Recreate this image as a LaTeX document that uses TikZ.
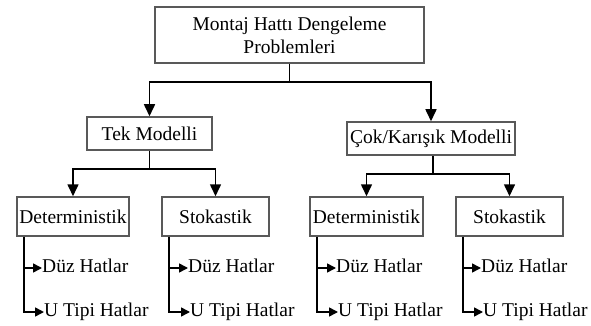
\documentclass[tikz,border=0pt]{standalone}
\usepackage{fontspec}
\setmainfont{Liberation Serif}
\usepackage{tikz}
\usetikzlibrary{arrows.meta}

\tikzset{
  box/.style={draw=black!65, line width=1.5pt, inner sep=0pt, align=center,
    minimum height=39pt, font=\fontsize{19.5}{23}\selectfont},
  lbl/.style={anchor=west, inner sep=0pt, text height=13pt, text depth=4pt,
    font=\fontsize{19.5}{23}\selectfont},
  conn/.style={line width=1.6pt, -{Triangle[length=12pt,width=11pt]}},
  leaf/.style={line width=1.6pt, -{Triangle[length=9pt,width=9pt]}},
}

\begin{document}
\begin{tikzpicture}[x=1pt,y=-1pt]
        \useasboundingbox (0,0) rectangle (591,326);

        % top box
        \node[box, minimum width=269pt, minimum height=56pt] (M) at (289.5,35)
             {Montaj Hattı Dengeleme\\Problemleri};

        % second level
        \node[box, minimum width=125pt, minimum height=33pt] (TM) at (149.5,133.5) {Tek Modelli};
        \node[box, minimum width=168pt, minimum height=33pt] (CM) at (431,138.5) {Çok/Karışık Modelli};

        % third level
        \node[box, minimum width=112pt] (D1) at (73,216.5) {Deterministik};
        \node[box, minimum width=107pt] (S1) at (215.5,216.5) {Stokastik};
        \node[box, minimum width=113pt] (D2) at (366.5,216.5) {Deterministik};
        \node[box, minimum width=107pt] (S2) at (509.5,216.5) {Stokastik};

        % branch points
        \coordinate (J1) at (289.5,82);
        \coordinate (J2) at (149.5,169);
        \coordinate (J3) at (433,174);

        \draw[conn] (M.south) -- (J1) -| (TM.north);
        \draw[conn] (J1) -| (CM.north);
        \draw[conn] (TM.south) -- (J2) -| (D1.north);
        \draw[conn] (J2) -| (S1.north);
        \draw[conn] (CM.south -| J3) -- (J3) -| (D2.north);
        \draw[conn] (J3) -| (S2.north);

        % line types
        \node[lbl] (DH1) at (42,268) {Düz Hatlar};
        \node[lbl] (UH1) at (44,312) {U Tipi Hatlar};
        \node[lbl] (DH2) at (188,268) {Düz Hatlar};
        \node[lbl] (UH2) at (190,312) {U Tipi Hatlar};
        \node[lbl] (DH3) at (336,268) {Düz Hatlar};
        \node[lbl] (UH3) at (338,312) {U Tipi Hatlar};
        \node[lbl] (DH4) at (481,268) {Düz Hatlar};
        \node[lbl] (UH4) at (483,312) {U Tipi Hatlar};

        \draw[leaf] ([xshift=7.5pt]D1.south west) |- (DH1.west);
        \draw[leaf] ([xshift=7.5pt]D1.south west) |- (UH1.west);
        \draw[leaf] ([xshift=7.5pt]S1.south west) |- (DH2.west);
        \draw[leaf] ([xshift=7.5pt]S1.south west) |- (UH2.west);
        \draw[leaf] ([xshift=7.5pt]D2.south west) |- (DH3.west);
        \draw[leaf] ([xshift=7.5pt]D2.south west) |- (UH3.west);
        \draw[leaf] ([xshift=7.5pt]S2.south west) |- (DH4.west);
        \draw[leaf] ([xshift=7.5pt]S2.south west) |- (UH4.west);

\end{tikzpicture}
\end{document}
